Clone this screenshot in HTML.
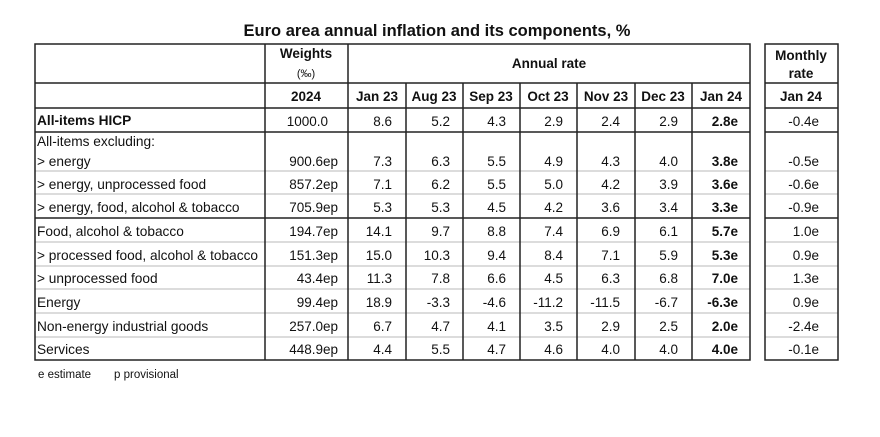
<!DOCTYPE html>
<html><head><meta charset="utf-8"><style>
body{margin:0;background:#fff;}
svg{display:block;font-family:"Liberation Sans",Arial,sans-serif;}
</style></head><body>
<svg width="880" height="437" viewBox="0 0 880 437" xmlns="http://www.w3.org/2000/svg">
<rect width="880" height="437" fill="#fff"/>
<text x="437" y="36" text-anchor="middle" font-size="16.5" font-weight="bold" fill="#111">Euro area annual inflation and its components, %</text>
<g stroke="#c8c8c8" stroke-width="1.3">
<line x1="35" y1="171" x2="750" y2="171"/><line x1="35" y1="194" x2="750" y2="194"/>
<line x1="35" y1="242" x2="750" y2="242"/><line x1="35" y1="266" x2="750" y2="266"/>
<line x1="35" y1="289" x2="750" y2="289"/><line x1="35" y1="313" x2="750" y2="313"/>
<line x1="35" y1="337" x2="750" y2="337"/>
<line x1="765" y1="171" x2="838" y2="171"/><line x1="765" y1="194" x2="838" y2="194"/>
<line x1="765" y1="242" x2="838" y2="242"/><line x1="765" y1="266" x2="838" y2="266"/>
<line x1="765" y1="289" x2="838" y2="289"/><line x1="765" y1="313" x2="838" y2="313"/>
<line x1="765" y1="337" x2="838" y2="337"/>
</g>
<g stroke="#222" stroke-width="1.5" fill="none">
<rect x="35" y="44" width="715" height="316"/>
<rect x="765" y="44" width="73" height="316"/>
<line x1="35" y1="83" x2="750" y2="83"/><line x1="35" y1="108" x2="750" y2="108"/>
<line x1="35" y1="132" x2="750" y2="132"/><line x1="35" y1="218" x2="750" y2="218"/>
<line x1="765" y1="83" x2="838" y2="83"/><line x1="765" y1="108" x2="838" y2="108"/>
<line x1="765" y1="132" x2="838" y2="132"/><line x1="765" y1="218" x2="838" y2="218"/>
<line x1="265" y1="44" x2="265" y2="360"/><line x1="348" y1="44" x2="348" y2="360"/>
<line x1="406" y1="83" x2="406" y2="360"/><line x1="463" y1="83" x2="463" y2="360"/>
<line x1="520" y1="83" x2="520" y2="360"/><line x1="577" y1="83" x2="577" y2="360"/>
<line x1="635" y1="83" x2="635" y2="360"/><line x1="692" y1="83" x2="692" y2="360"/>
</g>
<g font-size="13.5" fill="#111">
<g font-weight="bold" text-anchor="middle" font-size="13.5">
<text x="306" y="58">Weights</text>
<text x="306" y="77" font-size="11" font-weight="normal">(‰)</text>
<text x="549" y="68">Annual rate</text>
<text x="801" y="60">Monthly</text>
<text x="801" y="78">rate</text>
<text x="306" y="101">2024</text>
<text x="377" y="101">Jan 23</text><text x="434" y="101">Aug 23</text>
<text x="491" y="101">Sep 23</text><text x="548" y="101">Oct 23</text>
<text x="606" y="101">Nov 23</text><text x="663" y="101">Dec 23</text>
<text x="721" y="101">Jan 24</text><text x="801" y="101">Jan 24</text>
</g>
<g font-size="13.7">
<text x="37" y="125" font-weight="bold">All-items HICP</text>
<text x="37" y="146">All-items excluding:</text>
<text x="37" y="166">&gt; energy</text>
<text x="37" y="189">&gt; energy, unprocessed food</text>
<text x="37" y="212">&gt; energy, food, alcohol &amp; tobacco</text>
<text x="37" y="236">Food, alcohol &amp; tobacco</text>
<text x="37" y="260">&gt; processed food, alcohol &amp; tobacco</text>
<text x="37" y="283">&gt; unprocessed food</text>
<text x="37" y="307">Energy</text>
<text x="37" y="331">Non-energy industrial goods</text>
<text x="37" y="354">Services</text>
</g>
<g text-anchor="end">
<text x="328" y="126">1000.0</text>
<text x="338" y="166">900.6ep</text><text x="338" y="189">857.2ep</text><text x="338" y="212">705.9ep</text>
<text x="338" y="236">194.7ep</text><text x="338" y="260">151.3ep</text><text x="338" y="283">43.4ep</text>
<text x="338" y="307">99.4ep</text><text x="338" y="331">257.0ep</text><text x="338" y="354">448.9ep</text>
<text x="392" y="126">8.6</text><text x="392" y="166">7.3</text><text x="392" y="189">7.1</text><text x="392" y="212">5.3</text>
<text x="392" y="236">14.1</text><text x="392" y="260">15.0</text><text x="392" y="283">11.3</text><text x="392" y="307">18.9</text><text x="392" y="331">6.7</text><text x="392" y="354">4.4</text>
<text x="450" y="126">5.2</text><text x="450" y="166">6.3</text><text x="450" y="189">6.2</text><text x="450" y="212">5.3</text>
<text x="450" y="236">9.7</text><text x="450" y="260">10.3</text><text x="450" y="283">7.8</text><text x="450" y="307">-3.3</text><text x="450" y="331">4.7</text><text x="450" y="354">5.5</text>
<text x="506" y="126">4.3</text><text x="506" y="166">5.5</text><text x="506" y="189">5.5</text><text x="506" y="212">4.5</text>
<text x="506" y="236">8.8</text><text x="506" y="260">9.4</text><text x="506" y="283">6.6</text><text x="506" y="307">-4.6</text><text x="506" y="331">4.1</text><text x="506" y="354">4.7</text>
<text x="563" y="126">2.9</text><text x="563" y="166">4.9</text><text x="563" y="189">5.0</text><text x="563" y="212">4.2</text>
<text x="563" y="236">7.4</text><text x="563" y="260">8.4</text><text x="563" y="283">4.5</text><text x="563" y="307">-11.2</text><text x="563" y="331">3.5</text><text x="563" y="354">4.6</text>
<text x="620" y="126">2.4</text><text x="620" y="166">4.3</text><text x="620" y="189">4.2</text><text x="620" y="212">3.6</text>
<text x="620" y="236">6.9</text><text x="620" y="260">7.1</text><text x="620" y="283">6.3</text><text x="620" y="307">-11.5</text><text x="620" y="331">2.9</text><text x="620" y="354">4.0</text>
<text x="678" y="126">2.9</text><text x="678" y="166">4.0</text><text x="678" y="189">3.9</text><text x="678" y="212">3.4</text>
<text x="678" y="236">6.1</text><text x="678" y="260">5.9</text><text x="678" y="283">6.8</text><text x="678" y="307">-6.7</text><text x="678" y="331">2.5</text><text x="678" y="354">4.0</text>
<g font-weight="bold">
<text x="738" y="126">2.8e</text><text x="738" y="166">3.8e</text><text x="738" y="189">3.6e</text><text x="738" y="212">3.3e</text>
<text x="738" y="236">5.7e</text><text x="738" y="260">5.3e</text><text x="738" y="283">7.0e</text><text x="738" y="307">-6.3e</text><text x="738" y="331">2.0e</text><text x="738" y="354">4.0e</text>
</g>
<text x="819" y="126">-0.4e</text><text x="819" y="166">-0.5e</text><text x="819" y="189">-0.6e</text><text x="819" y="212">-0.9e</text>
<text x="819" y="236">1.0e</text><text x="819" y="260">0.9e</text><text x="819" y="283">1.3e</text><text x="819" y="307">0.9e</text><text x="819" y="331">-2.4e</text><text x="819" y="354">-0.1e</text>
</g>
<text x="38" y="378" font-size="11.5">e estimate</text>
<text x="114" y="378" font-size="11.5">p provisional</text>
</g>
</svg>
</body></html>
